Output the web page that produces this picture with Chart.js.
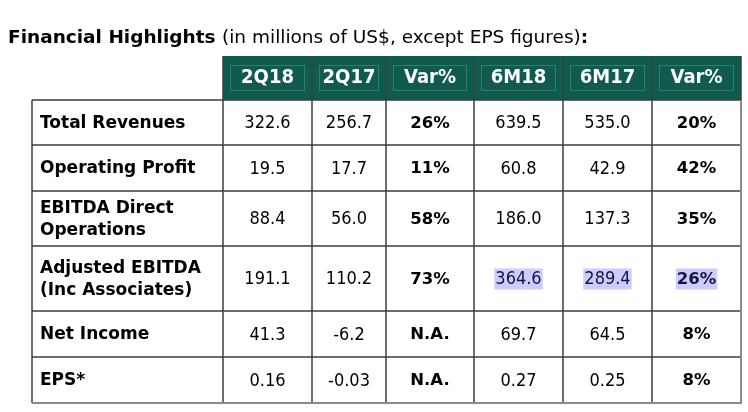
<!DOCTYPE html>
<html>
<head>
<meta charset="utf-8">
<script src="https://cdn.jsdelivr.net/npm/chart.js@4.4.1/dist/chart.umd.min.js"></script>
<style>
  html, body { margin: 0; padding: 0; background: #fff; }
</style>
</head>
<body>
<canvas id="table" width="748" height="412"></canvas>
<script>
const columns = ["2Q18", "2Q17", "Var%", "6M18", "6M17", "Var%"];
const rowLabels = [
  ["Total Revenues"],
  ["Operating Profit"],
  ["EBITDA Direct", "Operations"],
  ["Adjusted EBITDA", "(Inc Associates)"],
  ["Net Income"],
  ["EPS*"],
];
const q2_18 = [322.6, 19.5, 88.4, 191.1, 41.3, 0.16];
const q2_17 = [256.7, 17.7, 56.0, 110.2, -6.2, -0.03];
const varQ = [26, 11, 58, 73, null, null];
const m6_18 = [639.5, 60.8, 186.0, 364.6, 69.7, 0.27];
const m6_17 = [535.0, 42.9, 137.3, 289.4, 64.5, 0.25];
const varM = [20, 42, 35, 26, 8, 8];
const decimals = [1, 1, 1, 1, 1, 2];

// layout (px-ish units along the scales)
const colWidths = [191, 89, 74, 88, 89, 89, 89];
const rowHeights = [44, 45, 46, 55, 65, 46, 46];
const highlighted = { row: 3, cols: [3, 4, 5] };

const SANS = '"DejaVu Sans", sans-serif';
const NARROW = '"DejaVu Sans Condensed", "DejaVu Sans", sans-serif';
const GREEN = "#0f5b4d";
const LINE = "#3d3d3d";
const VALUE_FONT = "18px " + NARROW;
const VAR_FONT = "bold 16.5px " + SANS;

const edges = (arr) => arr.reduce((acc, w) => { acc.push(acc[acc.length - 1] + w); return acc; }, [0]);
const xEdges = edges(colWidths);
const yEdges = edges(rowHeights);
const xMid = (c) => (xEdges[c] + xEdges[c + 1]) / 2;
const yMid = (r) => (yEdges[r] + yEdges[r + 1]) / 2;

const fmtVal = (v, r) => v.toFixed(decimals[r]);
const fmtVar = (v) => (v === null ? "N.A." : v + "%");

const series = [q2_18, q2_17, varQ, m6_18, m6_17, varM];
const isVar = [false, false, true, false, false, true];

// one scatter dataset per column, one point per row (cell centres)
const datasets = series.map((vals, c) => ({
  label: columns[c],
  data: vals.map((v, r) => ({ x: xMid(c + 1), y: yMid(r + 1), text: isVar[c] ? fmtVar(v) : fmtVal(v, r) })),
  pointRadius: 0,
}));
// row labels
datasets.push({
  label: "labels",
  data: rowLabels.map((lines, r) => ({ x: xEdges[0], y: yMid(r + 1), lines })),
  pointRadius: 0,
});
// header cells
datasets.push({
  label: "header",
  data: columns.map((name, c) => ({ x: xMid(c + 1), y: yMid(0), text: name })),
  pointRadius: 0,
});

const tablePlugin = {
  id: "tablePlugin",
  beforeDatasetsDraw(chart) {
    const { ctx, scales: { x, y } } = chart;
    ctx.save();
    // title
    ctx.fillStyle = "#000";
    ctx.textBaseline = "alphabetic";
    ctx.textAlign = "left";
    let tx = 8;
    ctx.font = "bold 18.5px " + SANS;
    ctx.fillText("Financial Highlights", tx, 43);
    tx += ctx.measureText("Financial Highlights ").width;
    ctx.font = "18.5px " + SANS;
    ctx.fillText("(in millions of US$, except EPS figures)", tx, 43);
    tx += ctx.measureText("(in millions of US$, except EPS figures)").width;
    ctx.font = "bold 18.5px " + SANS;
    ctx.fillText(":", tx, 43);

    // header background
    const hx0 = x.getPixelForValue(xEdges[1]);
    const hx1 = x.getPixelForValue(xEdges[xEdges.length - 1]);
    const hy0 = y.getPixelForValue(yEdges[0]);
    const hy1 = y.getPixelForValue(yEdges[1]);
    ctx.fillStyle = GREEN;
    ctx.fillRect(hx0, hy0, hx1 - hx0, hy1 - hy0);
    // inset cell outlines in header
    ctx.strokeStyle = "rgba(255,255,255,0.18)";
    ctx.lineWidth = 1;
    for (let c = 1; c < xEdges.length - 1; c++) {
      const a = x.getPixelForValue(xEdges[c]);
      const b = x.getPixelForValue(xEdges[c + 1]);
      ctx.strokeRect(Math.round(a) + 7.5, Math.round(hy0) + 9.5, b - a - 15, hy1 - hy0 - 19);
    }

    // highlight selection
    highlighted.cols.forEach((c) => {
      const p = chart.getDatasetMeta(c).data[highlighted.row];
      const d = chart.data.datasets[c].data[highlighted.row];
      ctx.font = isVar[c] ? VAR_FONT : VALUE_FONT;
      const w = ctx.measureText(d.text).width;
      ctx.fillStyle = "#ccccff";
      ctx.fillRect(p.x - w / 2 - 1, p.y - 10, w + 2, 21);
    });

    // grid lines
    ctx.strokeStyle = LINE;
    ctx.lineWidth = 1.5;
    const left = x.getPixelForValue(xEdges[0]);
    const bottom = y.getPixelForValue(yEdges[yEdges.length - 1]);
    for (let r = 1; r < yEdges.length; r++) {
      const py = y.getPixelForValue(yEdges[r]);
      ctx.beginPath();
      ctx.moveTo(left, py);
      ctx.lineTo(hx1, py);
      ctx.stroke();
    }
    for (let c = 0; c < xEdges.length; c++) {
      const px = x.getPixelForValue(xEdges[c]);
      ctx.beginPath();
      ctx.moveTo(px, c === 0 ? hy1 : hy0);
      ctx.lineTo(px, bottom);
      ctx.stroke();
    }
    // outer right/bottom edge a bit heavier, grey
    ctx.strokeStyle = "#8a8a8a";
    ctx.lineWidth = 2;
    ctx.beginPath();
    ctx.moveTo(left, bottom);
    ctx.lineTo(hx1, bottom);
    ctx.lineTo(hx1, hy1);
    ctx.stroke();
    ctx.restore();
  },
  afterDatasetsDraw(chart) {
    const { ctx } = chart;
    ctx.save();
    ctx.textBaseline = "middle";
    // values
    series.forEach((vals, c) => {
      const meta = chart.getDatasetMeta(c);
      ctx.textAlign = "center";
      ctx.font = isVar[c] ? VAR_FONT : VALUE_FONT;
      meta.data.forEach((pt, r) => {
        const sel = r === highlighted.row && highlighted.cols.includes(c);
        ctx.fillStyle = sel ? "#14143c" : "#000";
        ctx.fillText(chart.data.datasets[c].data[r].text, pt.x, pt.y + 1);
      });
    });
    // row labels
    const lblMeta = chart.getDatasetMeta(series.length);
    ctx.textAlign = "left";
    ctx.fillStyle = "#000";
    ctx.font = "bold 17px " + SANS;
    lblMeta.data.forEach((pt, r) => {
      const lines = rowLabels[r];
      const lh = 22;
      lines.forEach((t, i) => {
        ctx.fillText(t, pt.x + 8, pt.y + 1 + (i - (lines.length - 1) / 2) * lh);
      });
    });
    // header text
    const hMeta = chart.getDatasetMeta(series.length + 1);
    ctx.textAlign = "center";
    ctx.fillStyle = "#fff";
    ctx.font = "bold 20px " + NARROW;
    hMeta.data.forEach((pt, c) => {
      ctx.fillText(columns[c], pt.x, pt.y);
    });
    ctx.restore();
  },
};

new Chart(document.getElementById("table"), {
  type: "scatter",
  data: { datasets },
  options: {
    responsive: false,
    animation: false,
    events: [],
    layout: { padding: { left: 32, right: 7, top: 56, bottom: 9 } },
    plugins: { legend: { display: false }, tooltip: { enabled: false } },
    scales: {
      x: { type: "linear", display: false, min: 0, max: xEdges[xEdges.length - 1] },
      y: { type: "linear", display: false, reverse: true, min: 0, max: yEdges[yEdges.length - 1] },
    },
  },
  plugins: [tablePlugin],
});
</script>
</body>
</html>
